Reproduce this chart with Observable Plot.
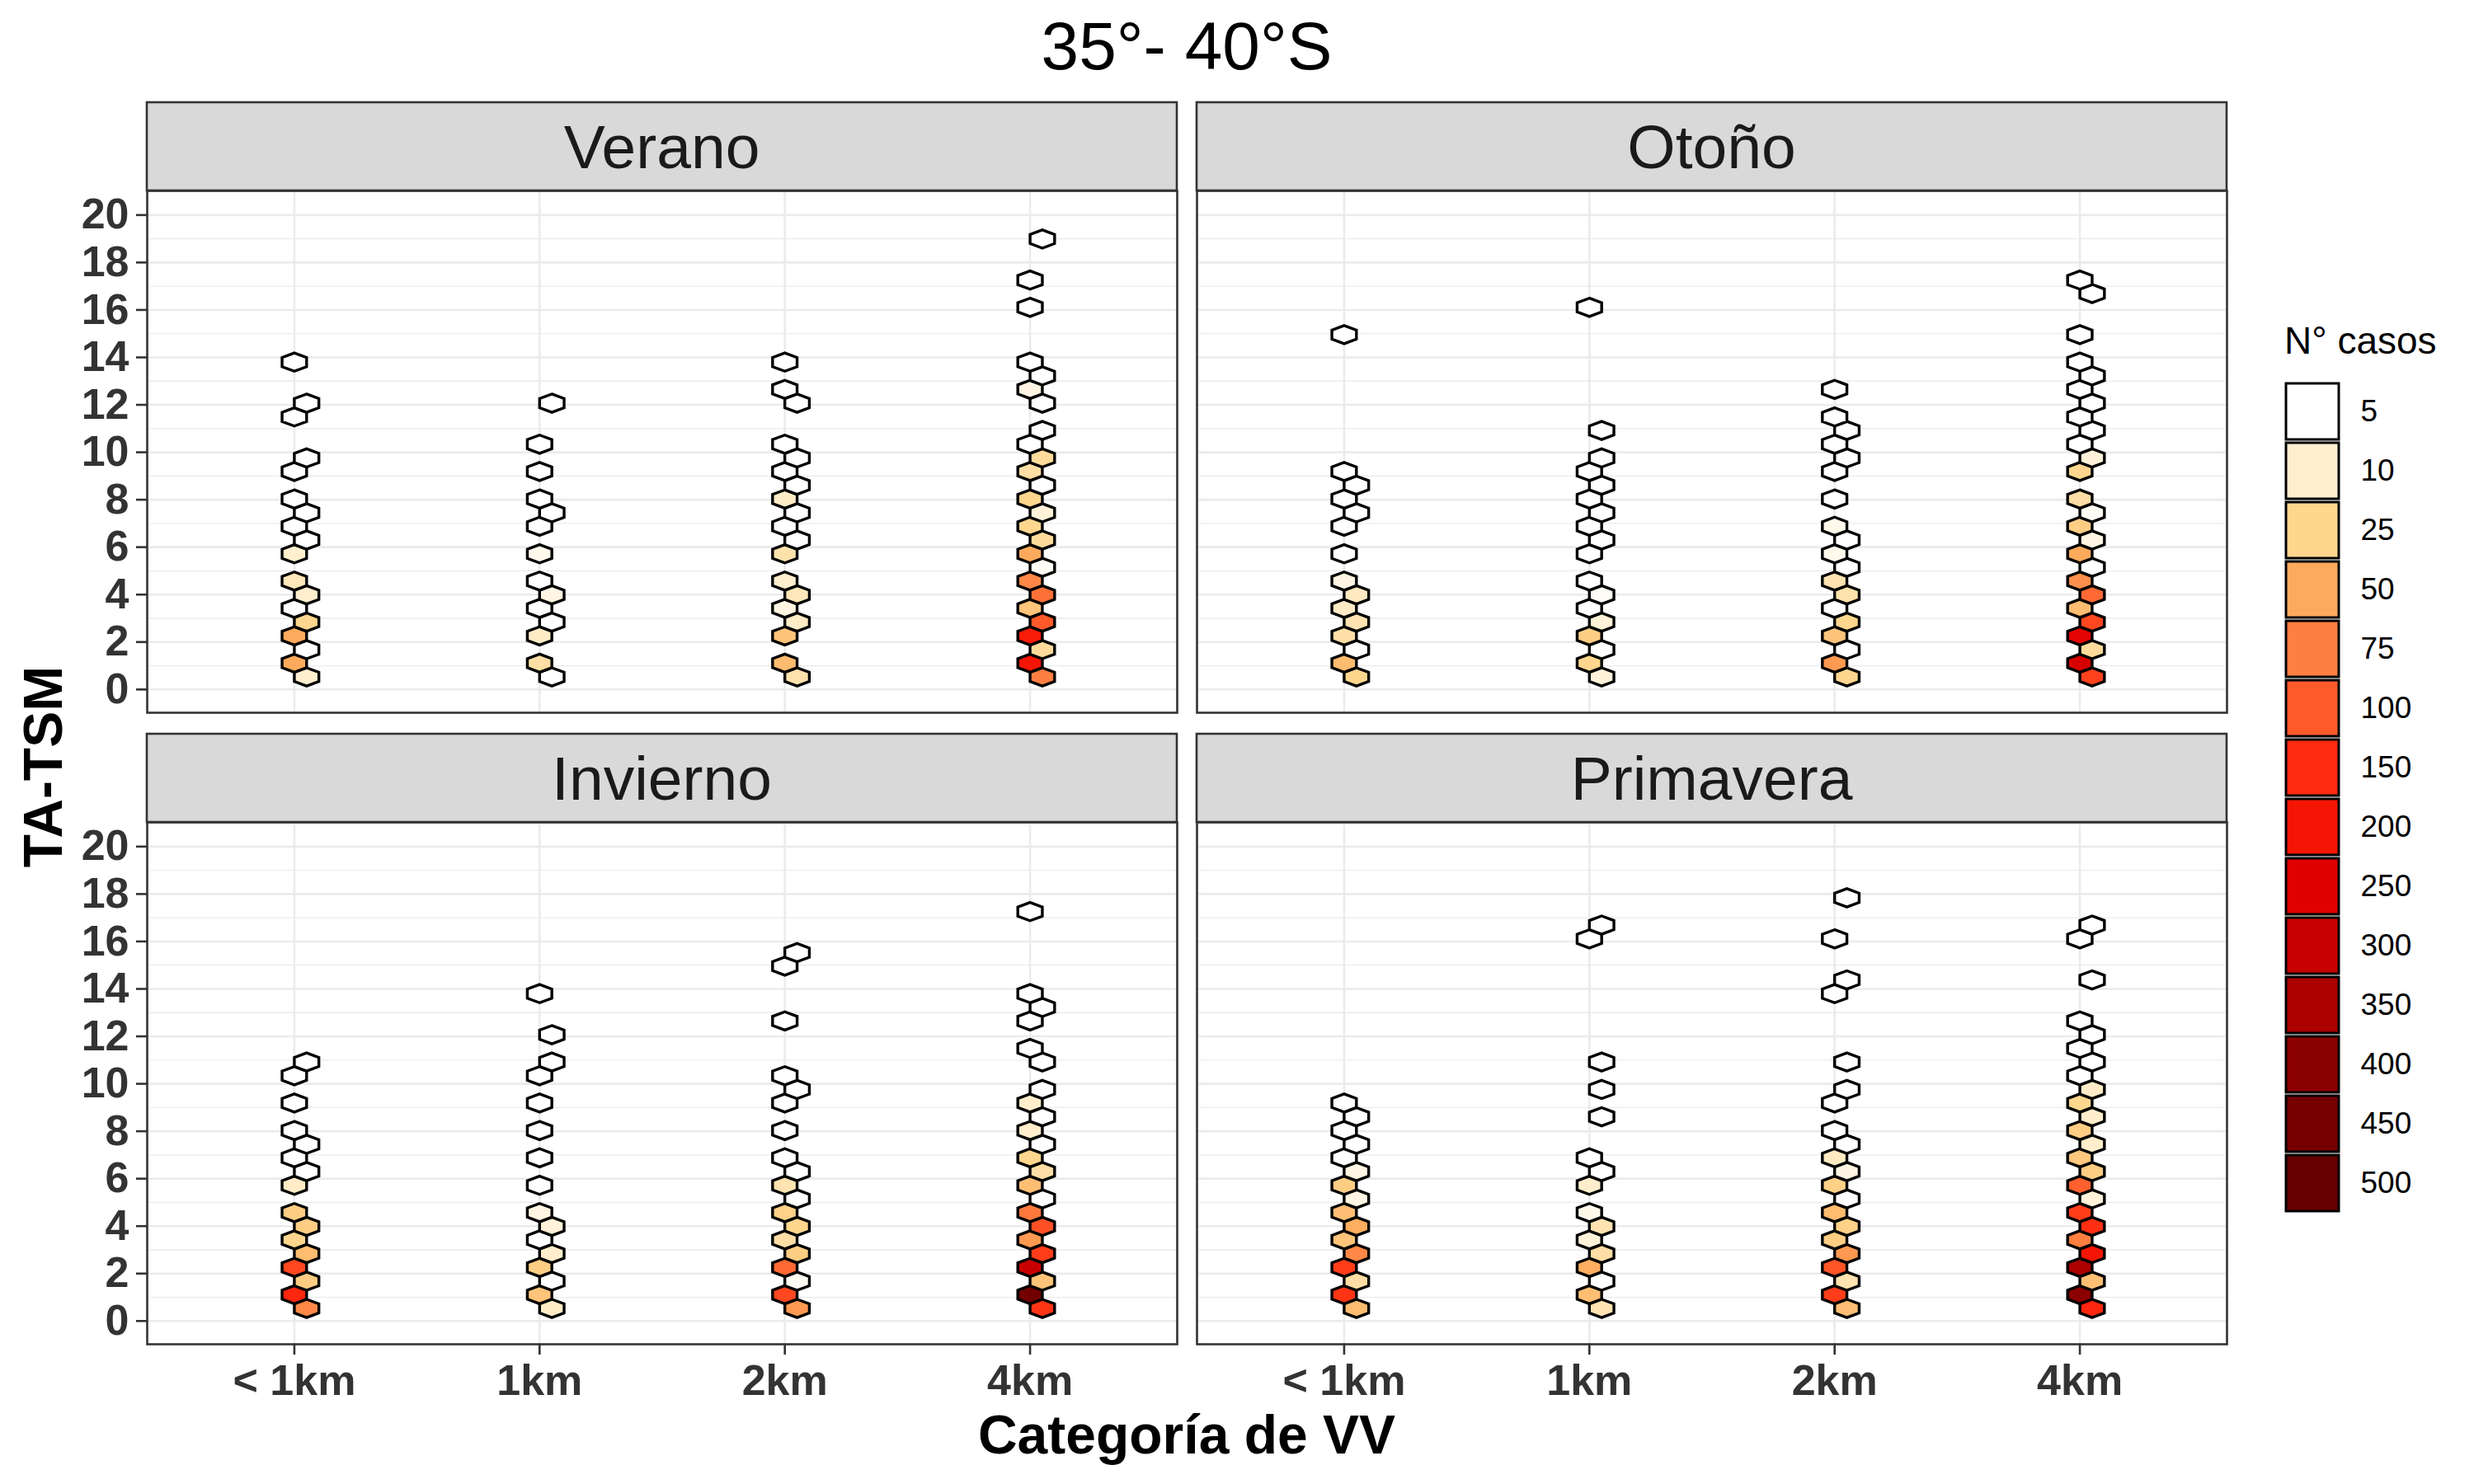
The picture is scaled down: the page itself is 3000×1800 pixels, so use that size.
<!DOCTYPE html>
<html>
<head>
<meta charset="utf-8">
<script src="https://cdn.jsdelivr.net/npm/d3@7"></script>
<script src="https://cdn.jsdelivr.net/npm/@observablehq/plot@0.6"></script>
<style>
  html, body { margin: 0; padding: 0; background: #fff; }
  #root { position: relative; width: 3000px; height: 1800px; background: #fff; overflow: hidden;
          font-family: "Liberation Sans", Arial, sans-serif; }
</style>
</head>
<body>
<div id="root"></div>
<script>
// ---------------- DATA ----------------
const title = "35°- 40°S";
const seasons = ["Verano", "Otoño", "Invierno", "Primavera"];
const categories = ["< 1km", "1km", "2km", "4km"];
const yTicks = [0, 2, 4, 6, 8, 10, 12, 14, 16, 18, 20];
const yMinor = [1, 3, 5, 7, 9, 11, 13, 15, 17, 19];
const legendBreaks = [5, 10, 25, 50, 75, 100, 150, 200, 250, 300, 350, 400, 450, 500];
const legendColors = ["#FFFFFF", "#FFEFCF", "#FED68E", "#FEAA5C", "#FF7F40", "#FF5A2A", "#FF2A10",
                      "#F51505", "#E00000", "#C80000", "#AA0000", "#8B0000", "#760000", "#660000"];

// hex bins: [TA-TSM bin centre, N° casos]
const verano_lt1 = [[0.53,10],[1.11,50],[1.68,5],[2.26,50],[2.84,25],[3.42,5],[3.99,10],[4.57,15],[5.72,10],[6.30,5],[6.88,5],[7.45,5],[8.03,5],[9.19,5],[9.76,5],[11.49,5],[12.07,5],[13.80,5]];
const verano_1 = [[0.53,5],[1.11,20],[2.26,12],[2.84,5],[3.42,5],[3.99,8],[4.57,5],[5.72,7],[6.88,5],[7.45,5],[8.03,5],[9.19,5],[10.34,5],[12.07,5]];
const verano_2 = [[0.53,18],[1.11,40],[2.26,35],[2.84,12],[3.42,8],[3.99,15],[4.57,10],[5.72,18],[6.30,5],[6.88,5],[7.45,5],[8.03,12],[8.61,5],[9.19,5],[9.76,5],[10.34,5],[12.07,5],[12.65,5],[13.80,5]];
const verano_4 = [[0.53,75],[1.11,200],[1.68,22],[2.26,180],[2.84,100],[3.42,35],[3.99,85],[4.57,70],[5.15,6],[5.72,50],[6.30,22],[6.88,25],[7.45,9],[8.03,25],[8.61,5],[9.19,20],[9.76,22],[10.34,5],[10.92,5],[12.07,5],[12.65,8],[13.22,5],[13.80,5],[16.11,5],[17.26,5],[18.99,5]];

const otono_lt1 = [[0.53,25],[1.11,40],[1.68,5],[2.26,20],[2.84,17],[3.42,12],[3.99,13],[4.57,8],[5.72,5],[6.88,5],[7.45,5],[8.03,5],[8.61,5],[9.19,5],[14.96,5]];
const otono_1 = [[0.53,9],[1.11,25],[1.68,5],[2.26,30],[2.84,9],[3.42,5],[3.99,6],[4.57,5],[5.72,5],[6.30,5],[6.88,5],[7.45,5],[8.03,5],[8.61,5],[9.19,5],[9.76,5],[10.92,5],[16.11,5]];
const otono_2 = [[0.53,25],[1.11,60],[1.68,5],[2.26,35],[2.84,25],[3.42,5],[3.99,18],[4.57,17],[5.15,5],[5.72,7],[6.30,5],[6.88,7],[8.03,5],[9.19,5],[9.76,5],[10.34,5],[10.92,5],[11.49,5],[12.65,5]];
const otono_4 = [[0.53,125],[1.11,270],[1.68,22],[2.26,240],[2.84,120],[3.42,40],[3.99,90],[4.57,65],[5.15,5],[5.72,50],[6.30,8],[6.88,30],[7.45,6],[8.03,20],[9.19,25],[9.76,9],[10.34,5],[10.92,5],[11.49,5],[12.07,5],[12.65,5],[13.22,5],[13.80,5],[14.96,5],[16.69,5],[17.26,5]];

const invierno_lt1 = [[0.53,70],[1.11,160],[1.68,30],[2.26,120],[2.84,40],[3.42,25],[3.99,30],[4.57,30],[5.72,12],[6.30,5],[6.88,5],[7.45,5],[8.03,5],[9.19,5],[10.34,5],[10.92,5]];
const invierno_1 = [[0.53,12],[1.11,35],[1.68,5],[2.26,30],[2.84,11],[3.42,5],[3.99,9],[4.57,8],[5.72,5],[6.88,5],[8.03,5],[9.19,5],[10.34,5],[10.92,5],[12.07,5],[13.80,5]];
const invierno_2 = [[0.53,60],[1.11,120],[1.68,6],[2.26,90],[2.84,30],[3.42,20],[3.99,25],[4.57,27],[5.15,5],[5.72,17],[6.30,5],[6.88,5],[8.03,5],[9.19,5],[9.76,5],[10.34,5],[12.65,5],[14.96,5],[15.53,5]];
const invierno_4 = [[0.53,140],[1.11,460],[1.68,35],[2.26,300],[2.84,130],[3.42,60],[3.99,110],[4.57,80],[5.15,5],[5.72,38],[6.30,20],[6.88,25],[7.45,5],[8.03,11],[8.61,5],[9.19,11],[9.76,5],[10.92,5],[11.49,5],[12.65,5],[13.22,5],[13.80,5],[17.26,5]];

const primavera_lt1 = [[0.53,40],[1.11,140],[1.68,20],[2.26,130],[2.84,70],[3.42,35],[3.99,48],[4.57,38],[5.15,8],[5.72,30],[6.30,8],[6.88,5],[7.45,5],[8.03,5],[8.61,5],[9.19,5]];
const primavera_1 = [[0.53,17],[1.11,38],[1.68,5],[2.26,48],[2.84,20],[3.42,9],[3.99,17],[4.57,7],[5.72,11],[6.30,5],[6.88,5],[8.61,5],[9.76,5],[10.92,5],[16.11,5],[16.69,5]];
const primavera_2 = [[0.53,38],[1.11,130],[1.68,17],[2.26,105],[2.84,60],[3.42,30],[3.99,28],[4.57,40],[5.15,5],[5.72,28],[6.30,8],[6.88,13],[7.45,5],[8.03,5],[9.19,5],[9.76,5],[10.92,5],[13.80,5],[14.38,5],[16.11,5],[17.84,5]];
const primavera_4 = [[0.53,160],[1.11,400],[1.68,38],[2.26,350],[2.84,200],[3.42,75],[3.99,145],[4.57,130],[5.15,9],[5.72,95],[6.30,30],[6.88,33],[7.45,11],[8.03,30],[8.61,11],[9.19,25],[9.76,12],[10.34,5],[10.92,5],[11.49,5],[12.07,5],[12.65,5],[14.38,5],[16.11,5],[16.69,5]];

const panelSeries = [
  [verano_lt1, verano_1, verano_2, verano_4],
  [otono_lt1, otono_1, otono_2, otono_4],
  [invierno_lt1, invierno_1, invierno_2, invierno_4],
  [primavera_lt1, primavera_1, primavera_2, primavera_4]
];

// hex grid (binwidth) parameters
const HEX_Y0 = 0.53, HEX_DY = 0.577, HEX_DX = 0.05;

// ---------------- LAYOUT ----------------
const FONT = '"Liberation Sans", Arial, Helvetica, sans-serif';
const PW = 1249, PH = 633, STRIP_H = 107;
const colX = [178, 1451];
const rowTop = [231, 997];
const XDOM = [0.4, 4.6], YDOM = [-0.98, 21.02];
const pxPerX = PW / (XDOM[1] - XDOM[0]);
const pxPerY = PH / (YDOM[1] - YDOM[0]);
const HW = HEX_DX * pxPerX;            // half width
const HV = (2 / 3) * HEX_DY * pxPerY;  // centre to top vertex
const HS = HV / 2;                     // half side
const hexSymbol = {
  draw(ctx) {
    ctx.moveTo(0, -HV); ctx.lineTo(HW, -HS); ctx.lineTo(HW, HS);
    ctx.lineTo(0, HV); ctx.lineTo(-HW, HS); ctx.lineTo(-HW, -HS); ctx.closePath();
  }
};
const colorScale = {type: "linear", domain: legendBreaks, range: legendColors, interpolate: "rgb", clamp: true};

const root = document.getElementById("root");

function rowsFor(series) {
  const out = [];
  series.forEach((bins, ci) => {
    bins.forEach(([y, n]) => {
      const row = Math.round((y - HEX_Y0) / HEX_DY);
      out.push({x: ci + 1 + (row % 2 === 0 ? HEX_DX : 0), y, n});
    });
  });
  return out;
}

seasons.forEach((season, si) => {
  const c = si % 2, r = Math.floor(si / 2);
  const showY = c === 0, showX = r === 1;
  const ml = showY ? 178 : 0, mb = showX ? 110 : 0;
  const data = rowsFor(panelSeries[si]);
  const marks = [
    Plot.ruleY(yMinor, {stroke: "#EBEBEB", strokeWidth: 1.3}),
    Plot.ruleY(yTicks, {stroke: "#EBEBEB", strokeWidth: 2.6}),
    Plot.ruleX([1, 2, 3, 4], {stroke: "#EBEBEB", strokeWidth: 2.6}),
    Plot.dot(data, {x: "x", y: "y", fill: "n", symbol: hexSymbol, stroke: "black", strokeWidth: 3.4}),
    Plot.frame({stroke: "#333333", strokeWidth: 2.6})
  ];
  if (showY) marks.push(Plot.axisY(yTicks, {label: null, tickSize: 13, tickPadding: 9, fontSize: 52,
      fontWeight: "bold", strokeWidth: 2.6, tickFormat: d => String(d)}));
  if (showX) marks.push(Plot.axisX([1, 2, 3, 4], {label: null, tickSize: 13, tickPadding: 12, fontSize: 52,
      fontWeight: "bold", strokeWidth: 2.6, tickFormat: d => categories[d - 1]}));
  const p = Plot.plot({
    width: ml + PW, height: PH + mb,
    marginLeft: ml, marginRight: 0, marginTop: 0, marginBottom: mb,
    x: {domain: XDOM, axis: showX ? undefined : null},
    y: {domain: YDOM, axis: showY ? undefined : null},
    color: colorScale,
    style: {fontFamily: FONT, color: "#333333", background: "transparent", overflow: "visible"},
    marks
  });
  p.style.position = "absolute";
  p.style.left = (colX[c] - ml) + "px";
  p.style.top = rowTop[r] + "px";
  root.appendChild(p);
});

// ---------------- LEGEND ----------------
const SW = 72.6;
const LEG_X = 2770, LEG_Y = 459;
const legend = Plot.plot({
  width: 220, height: SW * legendBreaks.length, margin: 0,
  x: {domain: [0, 220], range: [0, 220], axis: null},
  y: {type: "band", domain: legendBreaks.map(String), padding: 0, axis: null},
  color: colorScale,
  style: {fontFamily: FONT, background: "transparent", overflow: "visible"},
  marks: [
    Plot.barX(legendBreaks, {x1: 0, x2: 68, y: d => String(d), fill: d => d, stroke: "black", strokeWidth: 3, inset: 2}),
    Plot.text(legendBreaks, {x: 92, y: d => String(d), text: d => String(d), textAnchor: "start", fontSize: 37, fill: "black"})
  ]
});
legend.style.position = "absolute";
legend.style.left = LEG_X + "px";
legend.style.top = LEG_Y + "px";
root.appendChild(legend);

// ---------------- TEXT / STRIPS OVERLAY ----------------
const svg = d3.select(root).append("svg")
  .attr("width", 3000).attr("height", 1800)
  .style("position", "absolute").style("left", "0px").style("top", "0px")
  .style("pointer-events", "none").style("font-family", FONT);

seasons.forEach((season, si) => {
  const c = si % 2, r = Math.floor(si / 2);
  const top = rowTop[r] - STRIP_H;
  svg.append("rect").attr("x", colX[c]).attr("y", top).attr("width", PW).attr("height", STRIP_H)
    .attr("fill", "#D9D9D9").attr("stroke", "#333333").attr("stroke-width", 2.6);
  svg.append("text").attr("x", colX[c] + PW / 2).attr("y", top + STRIP_H / 2 + 0.358 * 75)
    .attr("text-anchor", "middle").attr("font-size", 75).attr("fill", "#1A1A1A").text(season);
});

svg.append("text").attr("x", 1439).attr("y", 84).attr("text-anchor", "middle")
  .attr("font-size", 82).attr("fill", "black").text(title);

svg.append("text").attr("x", 1439).attr("y", 1763).attr("text-anchor", "middle")
  .attr("font-size", 66).attr("font-weight", "bold").attr("fill", "black").text("Categoría de VV");

svg.append("text").attr("transform", "translate(75,930) rotate(-90)").attr("text-anchor", "middle")
  .attr("font-size", 66).attr("font-weight", "bold").attr("fill", "black").text("TA-TSM");

svg.append("text").attr("x", LEG_X).attr("y", 429).attr("font-size", 46).attr("fill", "black").text("N° casos");
</script>
</body>
</html>
